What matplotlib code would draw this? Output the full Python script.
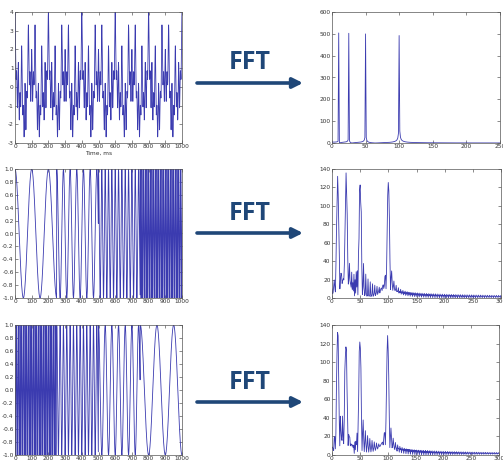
import numpy as np
import matplotlib.pyplot as plt
from matplotlib.patches import FancyArrowPatch

plt.rcParams['axes.unicode_minus'] = False

# --- signal parameters ---
fs = 1000                      # samples per second (1 ms step)
n_samples = 1001               # 0..1000 ms inclusive
freqs = [10, 25, 50, 100]      # Hz, components / segments
freqs_reversed = [100, 50, 25, 10]
segment_edges = [0, 250, 500, 750, 1001]   # sample index (ms)

t_ms = np.arange(n_samples)
t = t_ms / fs

# stationary: all four cosines at once
sig1 = np.zeros(n_samples)
for f in freqs:
    sig1 += np.cos(2 * np.pi * f * t)


# non-stationary: one frequency per segment, phase restarting at each segment
def segmented(freq_list):
    s = np.zeros(n_samples)
    for f, a, b in zip(freq_list, segment_edges[:-1], segment_edges[1:]):
        s[a:b] = np.cos(2 * np.pi * f * (t[a:b] - t[a]))
    return s


sig2 = segmented(freqs)
sig3 = segmented(freqs_reversed)

spec_f = np.fft.rfftfreq(n_samples, 1 / fs)
spec1 = np.abs(np.fft.rfft(sig1))
spec2 = np.abs(np.fft.rfft(sig2))
spec3 = np.abs(np.fft.rfft(sig3))

W, H = 503, 461
fig = plt.figure(figsize=(W / 100, H / 100), dpi=100)
line_col = '#3b3bb0'
arrow_col = '#1f4778'


def box(x0, x1, y0, y1):
    return [x0 / W, 1 - y1 / H, (x1 - x0) / W, (y1 - y0) / H]


def style(ax):
    ax.tick_params(labelsize=4.2, length=2, width=0.4, pad=1, direction='in',
                   top=True, right=True, colors='#333333')
    for sp in ax.spines.values():
        sp.set_linewidth(0.5)
        sp.set_color('#555555')


# row 1
ax = fig.add_axes(box(15, 182, 12, 143))
ax.plot(t_ms, sig1, color=line_col, lw=0.6)
ax.set_xlim(0, 1000)
ax.set_ylim(-3, 4)
ax.set_xticks(range(0, 1001, 100))
ax.set_yticks(range(-3, 5))
ax.set_xlabel('Time, ms', fontsize=4.2, labelpad=1, color='#333333')
style(ax)

ax = fig.add_axes(box(332, 500, 12, 143))
ax.plot(spec_f, spec1, color=line_col, lw=0.6)
ax.set_xlim(0, 250)
ax.set_ylim(0, 600)
ax.set_xticks(range(0, 251, 50))
ax.set_yticks(range(0, 601, 100))
style(ax)

# row 2
ax = fig.add_axes(box(15, 182, 169, 298))
ax.plot(t_ms, sig2, color=line_col, lw=0.6)
ax.set_xlim(0, 1000)
ax.set_ylim(-1, 1)
ax.set_xticks(range(0, 1001, 100))
ax.set_yticks(np.round(np.arange(-1, 1.01, 0.2), 1))
style(ax)

ax = fig.add_axes(box(332, 501, 169, 298))
ax.plot(spec_f, spec2, color=line_col, lw=0.6)
ax.set_xlim(0, 300)
ax.set_ylim(0, 140)
ax.set_xticks(range(0, 301, 50))
ax.set_yticks(range(0, 141, 20))
style(ax)

# row 3
ax = fig.add_axes(box(15, 182, 325, 455))
ax.plot(t_ms, sig3, color=line_col, lw=0.6)
ax.set_xlim(0, 1000)
ax.set_ylim(-1, 1)
ax.set_xticks(range(0, 1001, 100))
ax.set_yticks(np.round(np.arange(-1, 1.01, 0.2), 1))
style(ax)

ax = fig.add_axes(box(332, 499, 325, 455))
ax.plot(spec_f, spec3, color=line_col, lw=0.6)
ax.set_xlim(0, 300)
ax.set_ylim(0, 140)
ax.set_xticks(range(0, 301, 50))
ax.set_yticks(range(0, 141, 20))
style(ax)

# FFT labels and arrows
for ty, ay in [(62, 83), (213.5, 233), (382.5, 402)]:
    fig.text(250 / W, 1 - ty / H, 'FFT', ha='center', va='center',
             fontsize=18, fontweight='bold', color=arrow_col, family='Open Sans')
    fig.add_artist(FancyArrowPatch(
        (197 / W, 1 - ay / H), (303 / W, 1 - ay / H), transform=fig.transFigure,
        arrowstyle='-|>,head_length=6,head_width=3', lw=2.6,
        color=arrow_col, shrinkA=0, shrinkB=0))

fig.savefig('out.png', dpi=100)
